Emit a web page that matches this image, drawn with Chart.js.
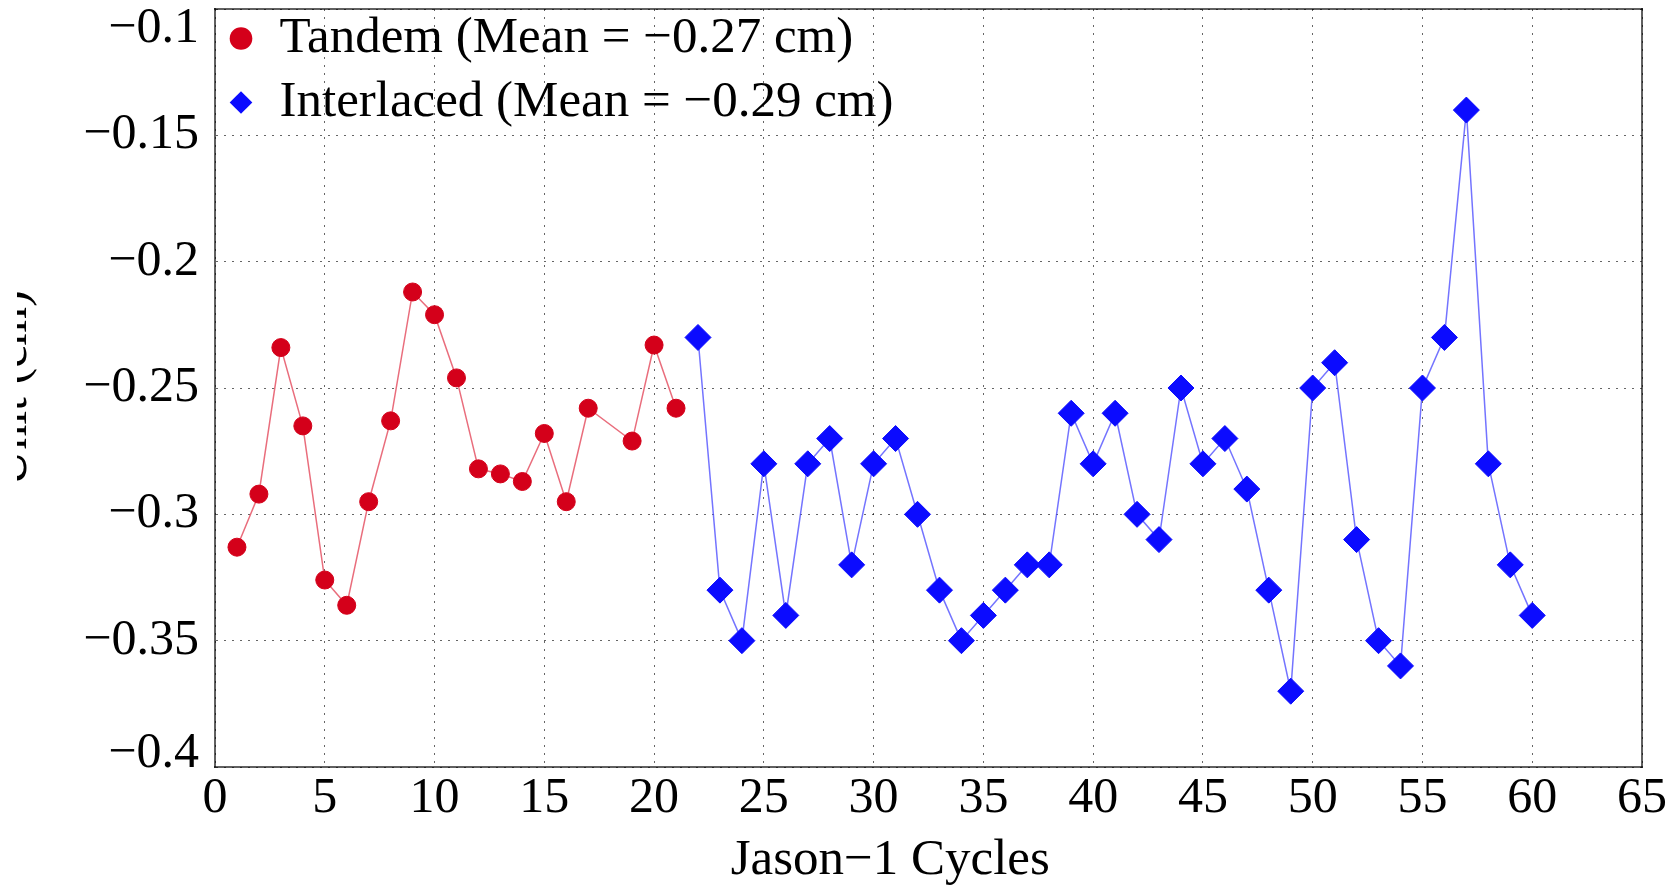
<!DOCTYPE html>
<html>
<head>
<meta charset="utf-8">
<title>Jason-1 cycles</title>
<script src="https://cdn.jsdelivr.net/npm/chart.js@4/dist/chart.umd.min.js"></script>
<style>
    html, body { margin: 0; padding: 0; background: #fff; overflow: hidden; }
    body { width: 1675px; height: 886px; position: relative; }
    /* la figure d'origine est rognée à gauche : le titre de l'axe y n'est qu'à moitié visible */
    #clip { position: absolute; left: 17px; top: 0; width: 1658px; height: 886px; overflow: hidden; }
    #chart { position: absolute; left: -23px; top: 0; }
</style>
</head>
<body>
<div id="clip"><canvas id="chart" width="1681" height="886"></canvas></div>
<script>
'use strict';

// Cycle 18 manque dans la série tandem.
const tandemCycles = [1, 2, 3, 4, 5, 6, 7, 8, 9, 10, 11, 12, 13, 14, 15, 16, 17, 19, 20, 21];
const tandemValues = [-0.313, -0.292, -0.234, -0.265, -0.326, -0.336, -0.295, -0.263, -0.212, -0.221,
                      -0.246, -0.282, -0.284, -0.287, -0.268, -0.295, -0.258, -0.271, -0.233, -0.258];

const interlacedCycles = [22, 23, 24, 25, 26, 27, 28, 29, 30, 31, 32, 33, 34, 35, 36, 37, 38, 39, 40, 41,
                          42, 43, 44, 45, 46, 47, 48, 49, 50, 51, 52, 53, 54, 55, 56, 57, 58, 59, 60];
const interlacedValues = [-0.23, -0.33, -0.35, -0.28, -0.34, -0.28, -0.27, -0.32, -0.28, -0.27,
                          -0.30, -0.33, -0.35, -0.34, -0.33, -0.32, -0.32, -0.26, -0.28, -0.26,
                          -0.30, -0.31, -0.25, -0.28, -0.27, -0.29, -0.33, -0.37, -0.25, -0.24,
                          -0.31, -0.35, -0.36, -0.25, -0.23, -0.14, -0.28, -0.32, -0.34];

const seriesLabels = ['Tandem (Mean = \u22120.27 cm)', 'Interlaced (Mean = \u22120.29 cm)'];
const xTitle = 'Jason\u22121 Cycles';
const yTitle = 'Unit (cm)';

const X_MIN = 0, X_MAX = 65, X_STEP = 5;
const Y_MIN = -0.4, Y_MAX = -0.1, Y_STEP = 0.05;

const serif = '"Liberation Serif", "Times New Roman", serif';
const red = '#d4001a';
const blue = '#0b0bff';
const gridColor = 'rgba(0, 0, 0, 0.6)';
const gridDash = [2, 6];
const frameColor = 'rgba(0, 0, 0, 0.62)';

function pairs(xs, ys) {
    return xs.map(function (x, i) { return { x: x, y: ys[i] }; });
}

function minus(v) {
    return String(Number(v.toFixed(2))).replace('-', '\u2212');
}

function near(a, b) {
    return Math.abs(a - b) < 1e-6;
}

// Les étiquettes extrêmes de l'axe y sont décalées vers l'intérieur, comme dans l'original.
function yTickFont(ctx) {
    let lh = 1;
    if (ctx.tick && near(ctx.tick.value, Y_MAX)) lh = 0.78;
    if (ctx.tick && near(ctx.tick.value, Y_MIN)) lh = 0.52;
    return { family: serif, size: 50, lineHeight: lh };
}

function frameAxis(position, min, max) {
    return {
        position: position,
        min: min,
        max: max,
        ticks: { display: false },
        grid: { display: false, drawTicks: false },
        border: { display: true, color: frameColor, width: 2 },
        afterFit: function (s) {
            if (s.isHorizontal()) s.height = 0; else s.width = 0;
            s.paddingTop = 0;
            s.paddingBottom = 0;
        }
    };
}

new Chart(document.getElementById('chart'), {
    type: 'line',
    data: {
        datasets: [
            {
                label: seriesLabels[0],
                data: pairs(tandemCycles, tandemValues),
                borderColor: 'rgba(226, 60, 80, 0.75)',
                backgroundColor: red,
                borderWidth: 1.5,
                pointStyle: 'circle',
                pointRadius: 9,
                pointBackgroundColor: red,
                pointBorderColor: red,
                pointBorderWidth: 1,
                tension: 0
            },
            {
                label: seriesLabels[1],
                data: pairs(interlacedCycles, interlacedValues),
                borderColor: 'rgba(70, 70, 255, 0.75)',
                backgroundColor: blue,
                borderWidth: 1.5,
                pointStyle: 'rectRot',
                pointRadius: 13,
                pointBackgroundColor: blue,
                pointBorderColor: blue,
                pointBorderWidth: 1,
                tension: 0
            }
        ]
    },
    options: {
        responsive: false,
        animation: false,
        devicePixelRatio: 1,
        // pas de marge automatique pour les gros marqueurs : le cadre colle au haut de la figure
        layout: { autoPadding: false, padding: { left: 0, right: 33, top: 9, bottom: 0 } },
        plugins: {
            tooltip: { enabled: false },
            legend: {
                position: 'chartArea',
                align: 'start',
                labels: {
                    usePointStyle: true,
                    boxWidth: 26,
                    boxHeight: 16,
                    padding: 13,
                    color: '#000',
                    font: { family: serif, size: 51, lineHeight: 1.0 },
                    generateLabels: function (chart) {
                        const items = Chart.defaults.plugins.legend.labels.generateLabels(chart);
                        items.forEach(function (it) {
                            it.text = [it.text];
                            it.strokeStyle = it.fillStyle;
                            it.lineWidth = 0;
                        });
                        return items;
                    }
                }
            }
        },
        scales: {
            x: {
                type: 'linear',
                position: 'bottom',
                min: X_MIN,
                max: X_MAX,
                ticks: {
                    stepSize: X_STEP,
                    color: '#000',
                    padding: 7,
                    font: { family: serif, size: 50, lineHeight: 1 },
                    maxRotation: 0
                },
                grid: { color: gridColor, lineWidth: 1, drawTicks: false },
                border: { display: true, color: frameColor, width: 2, dash: gridDash },
                title: {
                    display: true,
                    // espaces finales : le titre est décalé à gauche dans l'original
                    text: xTitle + '      ',
                    color: '#000',
                    font: { family: serif, size: 51, lineHeight: 1 },
                    padding: { top: 0, bottom: 0 }
                },
                afterFit: function (scale) { scale.height = 119; }
            },
            y: {
                type: 'linear',
                position: 'left',
                min: Y_MIN,
                max: Y_MAX,
                ticks: {
                    stepSize: Y_STEP,
                    color: '#000',
                    padding: 16,
                    font: yTickFont,
                    callback: function (value) {
                        const s = minus(value);
                        if (near(value, Y_MAX)) return ['', s];
                        if (near(value, Y_MIN)) return [s, ''];
                        return s;
                    }
                },
                grid: { color: gridColor, lineWidth: 1, drawTicks: false },
                border: { display: true, color: frameColor, width: 2, dash: gridDash },
                title: {
                    display: true,
                    text: yTitle,
                    color: '#000',
                    font: { family: serif, size: 50, lineHeight: 0.76 },
                    padding: 0
                },
                afterFit: function (scale) {
                    scale.width = 221;
                    scale.paddingTop = 0;
                    scale.paddingBottom = 0;
                }
            },
            // cadre : axes vides en haut et à droite
            xTop: frameAxis('top', X_MIN, X_MAX),
            yRight: frameAxis('right', Y_MIN, Y_MAX)
        }
    }
});
</script>
</body>
</html>
